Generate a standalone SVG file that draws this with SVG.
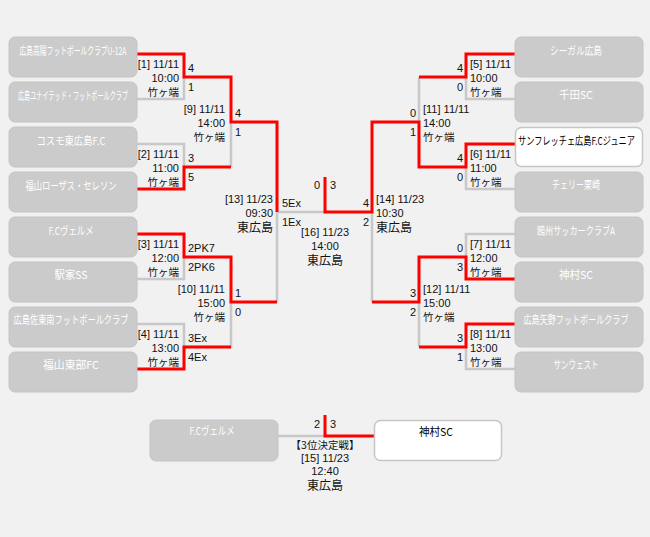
<svg xmlns="http://www.w3.org/2000/svg" width="650" height="537" viewBox="0 0 650 537">
<style>
.bg{fill:#f1f1f1}
.box{fill:#cbcbcb;stroke:#c4c4c4;stroke-width:1}
.wbox{fill:#ffffff;stroke:#c6c6c6;stroke-width:1.5}
.bt{font-family:"Noto Sans CJK JP","Liberation Sans",sans-serif;font-size:11px;fill:#ffffff;text-anchor:middle}
.bk{font-family:"Noto Sans CJK JP","Liberation Sans",sans-serif;font-size:11px;fill:#000000}
.g{fill:none;stroke:#c8c8c8;stroke-width:2.5}
.r{fill:none;stroke:#ff0000;stroke-width:3}
.t{font-family:"Liberation Sans","Noto Sans CJK JP",sans-serif;font-size:11px;fill:#111111}
.v{font-family:"Noto Sans CJK JP","Liberation Sans",sans-serif;font-size:10.5px;fill:#111111}
.b{font-family:"Noto Sans CJK JP","Liberation Sans",sans-serif;font-size:12px;fill:#111111}
.e{text-anchor:end}
.m{text-anchor:middle}
</style>
<rect class="bg" x="0" y="0" width="650" height="537"/>

<g id="connectors">
<path class="g" d="M137,99H184V77 M137,144H184V167 M231,167V122 M137,279H184V257 M137,324H184V347H231V302 M277,302V212H325"/>
<path class="g" d="M515,99H466V77 M419,77V122 M515,189H466V167 M515,234H466V257 M515,369H466V347 M419,347V302 M372,212V302"/>
<path class="g" d="M278,436H325"/>
<path class="r" d="M137,54H184V77H231V122H277V212 M137,189H184V167H231 M137,234H184V257H231V302H277 M137,369H184V347H231"/>
<path class="r" d="M515,54H466V77H419 M515,144H466V167H419V122H372V212H325V177 M515,279H466V257H419V302H372 M515,324H466V347H419"/>
<path class="r" d="M325,415V436H374"/>
</g>

<g id="team-l1"><rect class="box" x="9" y="37" width="128" height="40" rx="6"/><text class="bt" x="73" y="55" font-size="9" textLength="107" lengthAdjust="spacingAndGlyphs">広島高陽フットボールクラブU-12A</text></g>
<g id="team-l2"><rect class="box" x="9" y="82" width="128" height="40" rx="6"/><text class="bt" x="73" y="100" font-size="9" textLength="110" lengthAdjust="spacingAndGlyphs">広島ユナイテッド・フットボールクラブ</text></g>
<g id="team-l3"><rect class="box" x="9" y="127" width="128" height="40" rx="6"/><text class="bt" x="71" y="145" font-size="12" textLength="69" lengthAdjust="spacingAndGlyphs">コスモ東広島F.C</text></g>
<g id="team-l4"><rect class="box" x="9" y="172" width="128" height="40" rx="6"/><text class="bt" x="71" y="190" font-size="12" textLength="91" lengthAdjust="spacingAndGlyphs">福山ローザス・セレソン</text></g>
<g id="team-l5"><rect class="box" x="9" y="217" width="128" height="40" rx="6"/><text class="bt" x="71" y="235" textLength="45" lengthAdjust="spacingAndGlyphs">F.Cヴェルメ</text></g>
<g id="team-l6"><rect class="box" x="9" y="262" width="128" height="40" rx="6"/><text class="bt" x="71" y="279" font-size="12" textLength="33" lengthAdjust="spacingAndGlyphs">駅家SS</text></g>
<g id="team-l7"><rect class="box" x="9" y="307" width="128" height="40" rx="6"/><text class="bt" x="71" y="324" font-size="10" textLength="115" lengthAdjust="spacingAndGlyphs">広島佐東南フットボールクラブ</text></g>
<g id="team-l8"><rect class="box" x="9" y="352" width="128" height="40" rx="6"/><text class="bt" x="71" y="369" font-size="12" textLength="56" lengthAdjust="spacingAndGlyphs">福山東部FC</text></g>

<g id="team-r1"><rect class="box" x="515" y="37" width="128" height="40" rx="6"/><text class="bt" x="576" y="55" font-size="12" textLength="52" lengthAdjust="spacingAndGlyphs">シーガル広島</text></g>
<g id="team-r2"><rect class="box" x="515" y="82" width="128" height="40" rx="6"/><text class="bt" x="576" y="99" font-size="12" textLength="34" lengthAdjust="spacingAndGlyphs">千田SC</text></g>
<g id="team-r3"><rect class="wbox" x="515.5" y="127.5" width="127" height="39" rx="6"/><text class="bk" x="518" y="145" font-size="9" textLength="117" lengthAdjust="spacingAndGlyphs">サンフレッチェ広島F.Cジュニア</text></g>
<g id="team-r4"><rect class="box" x="515" y="172" width="128" height="40" rx="6"/><text class="bt" x="576" y="189" font-size="12" textLength="48" lengthAdjust="spacingAndGlyphs">チェリー栗崎</text></g>
<g id="team-r5"><rect class="box" x="515" y="217" width="128" height="40" rx="6"/><text class="bt" x="576" y="235" font-size="12" textLength="78" lengthAdjust="spacingAndGlyphs">鴎州サッカークラブA</text></g>
<g id="team-r6"><rect class="box" x="515" y="262" width="128" height="40" rx="6"/><text class="bt" x="576" y="279" font-size="12" textLength="34" lengthAdjust="spacingAndGlyphs">神村SC</text></g>
<g id="team-r7"><rect class="box" x="515" y="307" width="128" height="40" rx="6"/><text class="bt" x="576" y="324" font-size="9" textLength="105" lengthAdjust="spacingAndGlyphs">広島矢野フットボールクラブ</text></g>
<g id="team-r8"><rect class="box" x="515" y="352" width="128" height="40" rx="6"/><text class="bt" x="576" y="369" font-size="12" textLength="45" lengthAdjust="spacingAndGlyphs">サンウェスト</text></g>

<g id="team-3rd-l"><rect class="box" x="150" y="420" width="128" height="41" rx="6"/><text class="bt" x="212" y="435" textLength="45" lengthAdjust="spacingAndGlyphs">F.Cヴェルメ</text></g>
<g id="team-3rd-r"><rect class="wbox" x="374.5" y="420.5" width="127" height="40" rx="6"/><text class="bk m" x="436" y="436" font-size="12" textLength="34" lengthAdjust="spacingAndGlyphs">神村SC</text></g>

<g id="match-1"><text class="t e" x="179" y="68">[1] 11/11</text><text class="t e" x="179" y="82">10:00</text><text class="v e" x="179" y="96">竹ヶ端</text><text class="t" x="188" y="72">4</text><text class="t" x="188" y="91">1</text></g>
<g id="match-2"><text class="t e" x="179" y="158">[2] 11/11</text><text class="t e" x="179" y="172">11:00</text><text class="v e" x="179" y="186">竹ヶ端</text><text class="t" x="188" y="162">3</text><text class="t" x="188" y="181">5</text></g>
<g id="match-3"><text class="t e" x="179" y="248">[3] 11/11</text><text class="t e" x="179" y="262">12:00</text><text class="v e" x="179" y="276">竹ヶ端</text><text class="t" x="188" y="252">2PK7</text><text class="t" x="188" y="271">2PK6</text></g>
<g id="match-4"><text class="t e" x="179" y="338">[4] 11/11</text><text class="t e" x="179" y="352">13:00</text><text class="v e" x="179" y="366">竹ヶ端</text><text class="t" x="188" y="342">3Ex</text><text class="t" x="188" y="361">4Ex</text></g>
<g id="match-9"><text class="t e" x="225" y="113">[9] 11/11</text><text class="t e" x="225" y="127">14:00</text><text class="v e" x="225" y="141">竹ヶ端</text><text class="t" x="235" y="117">4</text><text class="t" x="235" y="136">1</text></g>
<g id="match-10"><text class="t e" x="225" y="293">[10] 11/11</text><text class="t e" x="225" y="307">15:00</text><text class="v e" x="225" y="321">竹ヶ端</text><text class="t" x="235" y="297">1</text><text class="t" x="235" y="316">0</text></g>
<g id="match-13"><text class="t e" x="273" y="203">[13] 11/23</text><text class="t e" x="273" y="217">09:30</text><text class="b e" x="273" y="232">東広島</text><text class="t" x="282" y="207">5Ex</text><text class="t" x="282" y="226">1Ex</text></g>

<g id="match-5"><text class="t" x="470" y="68">[5] 11/11</text><text class="t" x="470" y="82">10:00</text><text class="v" x="470" y="96">竹ヶ端</text><text class="t e" x="463" y="72">4</text><text class="t e" x="463" y="91">0</text></g>
<g id="match-6"><text class="t" x="470" y="158">[6] 11/11</text><text class="t" x="470" y="172">11:00</text><text class="v" x="470" y="186">竹ヶ端</text><text class="t e" x="463" y="162">4</text><text class="t e" x="463" y="181">0</text></g>
<g id="match-7"><text class="t" x="470" y="248">[7] 11/11</text><text class="t" x="470" y="262">12:00</text><text class="v" x="470" y="276">竹ヶ端</text><text class="t e" x="463" y="252">0</text><text class="t e" x="463" y="271">3</text></g>
<g id="match-8"><text class="t" x="470" y="338">[8] 11/11</text><text class="t" x="470" y="352">13:00</text><text class="v" x="470" y="366">竹ヶ端</text><text class="t e" x="463" y="342">3</text><text class="t e" x="463" y="361">1</text></g>
<g id="match-11"><text class="t" x="423" y="113">[11] 11/11</text><text class="t" x="423" y="127">14:00</text><text class="v" x="423" y="141">竹ヶ端</text><text class="t e" x="416" y="117">0</text><text class="t e" x="416" y="136">1</text></g>
<g id="match-12"><text class="t" x="423" y="293">[12] 11/11</text><text class="t" x="423" y="307">15:00</text><text class="v" x="423" y="321">竹ヶ端</text><text class="t e" x="416" y="297">3</text><text class="t e" x="416" y="316">2</text></g>
<g id="match-14"><text class="t" x="376" y="203">[14] 11/23</text><text class="t" x="376" y="217">10:30</text><text class="b" x="376" y="232">東広島</text><text class="t e" x="369" y="207">4</text><text class="t e" x="369" y="226">2</text></g>

<g id="match-16"><text class="t m" x="325" y="236">[16] 11/23</text><text class="t m" x="325" y="250">14:00</text><text class="b m" x="325" y="265">東広島</text><text class="t e" x="320" y="189">0</text><text class="t" x="330" y="189">3</text></g>
<g id="match-15"><text class="t e" x="320" y="428">2</text><text class="t" x="330" y="428">3</text><text class="v m" x="325" y="449">【3位決定戦】</text><text class="t m" x="325" y="462">[15] 11/23</text><text class="t m" x="325" y="475">12:40</text><text class="b m" x="325" y="490">東広島</text></g>
</svg>
